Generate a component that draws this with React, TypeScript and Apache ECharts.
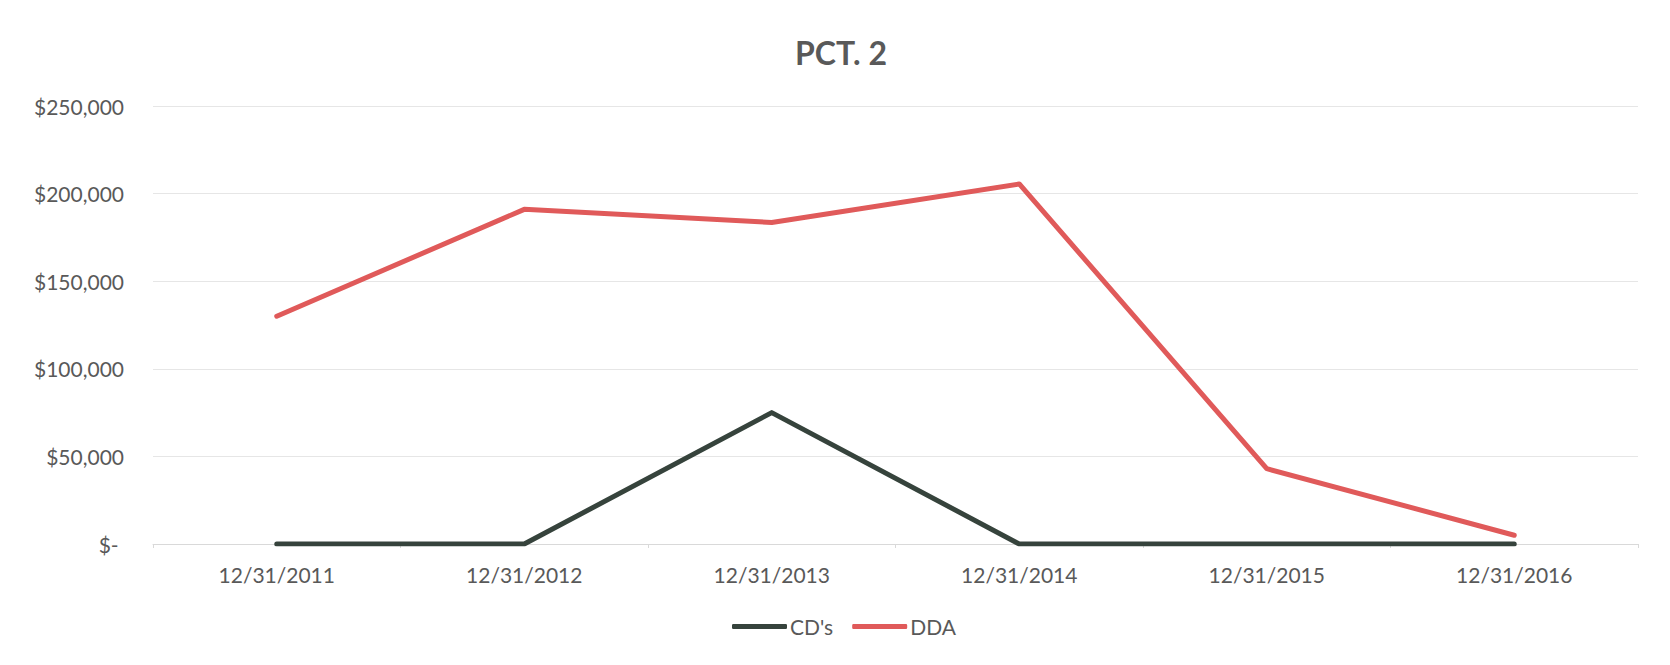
import React, { useEffect, useRef } from "react";
import * as echarts from "echarts";

const categories = ["12/31/2011", "12/31/2012", "12/31/2013", "12/31/2014", "12/31/2015", "12/31/2016"];
const cdValues = [0, 0, 75000, 0, 0, 0];
const ddaValues = [130000, 191000, 183500, 205500, 43000, 5000];
const yTicks = [0, 50000, 100000, 150000, 200000, 250000];

const FONT = "Lato, 'Open Sans', sans-serif";

export default function App() {
  const ref = useRef<HTMLDivElement>(null);
  useEffect(() => {
    if (!ref.current) return;
    const chart = echarts.init(ref.current, undefined, { renderer: "svg" });
    chart.setOption({
      animation: false,
      backgroundColor: "#ffffff",
      title: {
        text: "PCT. 2",
        left: 790,
        top: 31,
        textStyle: { fontFamily: FONT, fontSize: 32, fontWeight: "bold", color: "#595959" },
      },
      legend: {
        bottom: 23,
        left: 727,
        itemWidth: 55,
        itemHeight: 5,
        itemGap: 19,
        icon: "roundRect",
        textStyle: { fontFamily: FONT, fontSize: 21, color: "#595959", padding: [0, 0, 0, -2] },
        data: ["CD's", "DDA"],
      },
      grid: { left: 153, right: 32, top: 106, bottom: 121 },
      xAxis: {
        type: "category",
        data: categories,
        boundaryGap: true,
        axisLine: { show: true, lineStyle: { color: "#d9d9d9", width: 1 } },
        axisTick: { show: true, length: 4, lineStyle: { color: "#d9d9d9" } },
        axisLabel: { fontFamily: FONT, fontSize: 21, color: "#595959", margin: 20 },
      },
      yAxis: {
        type: "value",
        min: yTicks[0],
        max: yTicks[yTicks.length - 1],
        interval: 50000,
        axisLine: { show: false },
        axisTick: { show: false },
        splitLine: { lineStyle: { color: "#e6e6e6", width: 1 } },
        axisLabel: {
          fontFamily: FONT,
          fontSize: 21,
          color: "#595959",
          margin: 29,
          formatter: (v: number) => (v === 0 ? "$- " : "$" + v.toLocaleString("en-US")),
        },
      },
      series: [
        {
          name: "CD's",
          type: "line",
          data: cdValues,
          symbol: "none",
          lineStyle: { color: "#36433c", width: 5, cap: "round", join: "round" },
          itemStyle: { color: "#36433c" },
        },
        {
          name: "DDA",
          type: "line",
          data: ddaValues,
          symbol: "none",
          lineStyle: { color: "#e05a5a", width: 5, cap: "round", join: "round" },
          itemStyle: { color: "#e05a5a" },
        },
      ],
    });
    return () => chart.dispose();
  }, []);
  return (
    <div
      ref={ref}
      style={{ position: "fixed", left: 0, top: 0, width: 1670, height: 665 }}
    />
  );
}
